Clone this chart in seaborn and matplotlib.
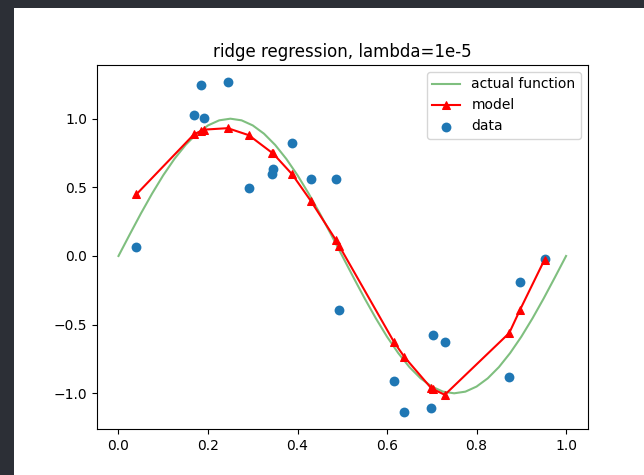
import matplotlib
matplotlib.use("Agg")
import matplotlib.pyplot as plt
from matplotlib.patches import Rectangle
import seaborn as sns

# data points
data_x = [0.040, 0.169, 0.184, 0.190, 0.244, 0.291, 0.345, 0.343, 0.388, 0.430,
          0.485, 0.493, 0.616, 0.639, 0.698, 0.703, 0.729, 0.873, 0.897, 0.952]
data_y = [0.064, 1.028, 1.247, 1.006, 1.269, 0.498, 0.631, 0.600, 0.826, 0.558,
          0.564, -0.393, -0.914, -1.133, -1.108, -0.573, -0.624, -0.880, -0.190, -0.020]

# model predictions at sorted data x
model_x = [0.040, 0.169, 0.184, 0.190, 0.244, 0.291, 0.343, 0.345, 0.388, 0.430,
           0.485, 0.493, 0.616, 0.639, 0.698, 0.703, 0.729, 0.873, 0.897, 0.952]
model_y = [0.449, 0.887, 0.910, 0.920, 0.931, 0.880, 0.752, 0.748, 0.595, 0.400,
           0.120, 0.075, -0.629, -0.736, -0.960, -0.970, -1.011, -0.561, -0.393, -0.026]

# actual function samples
actual_x = [0.000, 0.025, 0.050, 0.075, 0.100, 0.125, 0.150, 0.175, 0.200, 0.225,
            0.250, 0.275, 0.300, 0.325, 0.350, 0.375, 0.400, 0.425, 0.450, 0.475,
            0.500, 0.525, 0.550, 0.575, 0.600, 0.625, 0.650, 0.675, 0.700, 0.725,
            0.750, 0.775, 0.800, 0.825, 0.850, 0.875, 0.900, 0.925, 0.950, 0.975, 1.000]
actual_y = [0.000, 0.156, 0.309, 0.454, 0.588, 0.707, 0.809, 0.891, 0.951, 0.988,
            1.000, 0.988, 0.951, 0.891, 0.809, 0.707, 0.588, 0.454, 0.309, 0.156,
            0.000, -0.156, -0.309, -0.454, -0.588, -0.707, -0.809, -0.891, -0.951, -0.988,
            -1.000, -0.988, -0.951, -0.891, -0.809, -0.707, -0.588, -0.454, -0.309, -0.156, 0.000]

title = "ridge regression, lambda=1e-5"

W, H = 644, 475
fig = plt.figure(figsize=(W / 100, H / 100), dpi=100, facecolor="#2c2f36")
fig.patches.append(Rectangle((14 / W, 0), 1, 467 / H, transform=fig.transFigure,
                             facecolor="white", edgecolor="none", zorder=-1))
ax = fig.add_axes([97 / W, (H - 429) / H, 491 / W, 364 / H])

sns.lineplot(x=actual_x, y=actual_y, ax=ax, color="g", alpha=0.5, linewidth=1.5,
             sort=False, estimator=None, label="actual function")
sns.lineplot(x=model_x, y=model_y, ax=ax, color="r", linewidth=1.5, marker="^",
             markersize=6, markeredgecolor="r", sort=False, estimator=None, label="model")
sns.scatterplot(x=data_x, y=data_y, ax=ax, color="C0", s=50, linewidth=0, label="data")

ax.set_title(title, fontsize=12)
ax.set_xticks([0.0, 0.2, 0.4, 0.6, 0.8, 1.0])
ax.set_yticks([-1.0, -0.5, 0.0, 0.5, 1.0])
ax.set_xlim(-0.048, 1.049)
ax.set_ylim(-1.26, 1.391)
ax.legend(loc="upper right", fontsize=10)

fig.savefig("out.png", dpi=100, facecolor=fig.get_facecolor())
